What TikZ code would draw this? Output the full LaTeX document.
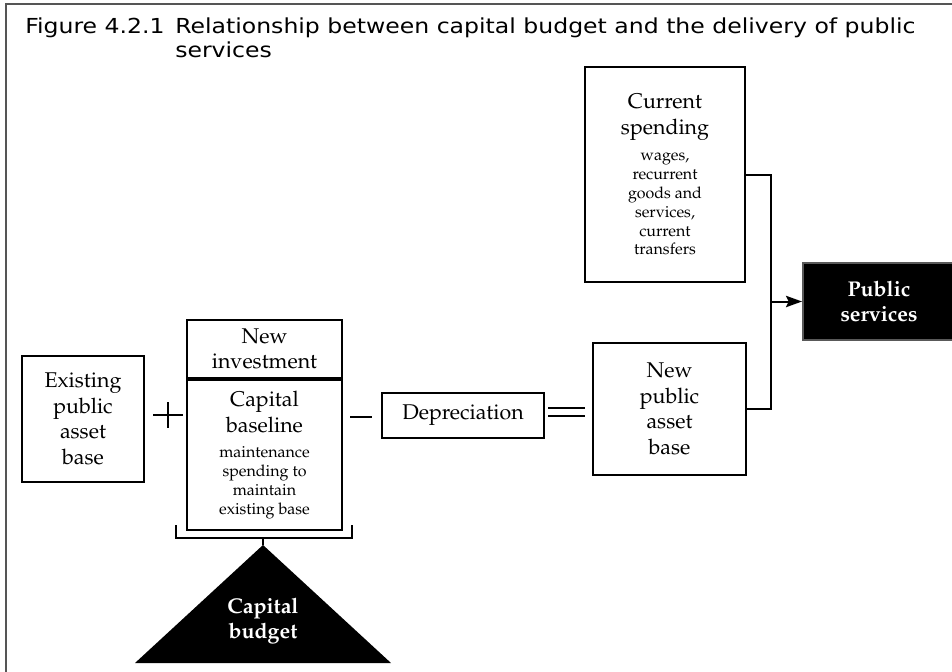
\documentclass[tikz,border=0pt]{standalone}
\usepackage[T1]{fontenc}
\usepackage{fontspec}
\usepackage{tikz}
\usetikzlibrary{arrows.meta, positioning}
\newfontfamily\capfont[FakeStretch=1.14]{DejaVu Sans}
\newcommand{\boxfont}{\fontencoding{T1}\fontfamily{ppl}\fontsize{16}{19.2}\selectfont}
\newcommand{\notefont}{\fontsize{12}{14.2}\selectfont}
\definecolor{framegray}{HTML}{555555}

\begin{document}
\begin{tikzpicture}[x=0.75pt, y=0.75pt, font=\boxfont,
  box/.style={draw, line width=1.5pt, inner sep=2pt, align=flush center},
  dark/.style={box, draw=gray!70!black, fill=black, text=white, font=\boxfont\bfseries},
  line/.style={line width=1.5pt},
  op/.style={line width=1.6pt},
  arr/.style={-{Stealth[length=12pt, width=8.5pt, inset=2pt]}, line width=1.5pt}
]
\useasboundingbox (0,0) rectangle (952,-671);
\draw[framegray, line width=1.1pt] (6,-680) -- (6,-4) -- (960,-4);

% caption (base of a two-line node is its last line)
\node[anchor=base west, inner sep=0pt, font=\capfont\fontsize{15.5}{18}\selectfont] (fignum) at (25,-33) {Figure 4.2.1};
\node[anchor=base west, inner sep=0pt, align=left, font=\capfont\fontsize{15.5}{18}\selectfont] (caption) at (175,-57)
  {Relationship between capital budget and the delivery of public\\services};

% capital side
\node[box, minimum width=91.5pt, minimum height=94.5pt, text width=84pt] (exist) at (83,-419)
  {Existing\\public\\asset\\base};
\node[box, minimum width=116.25pt, minimum height=112.5pt, text width=108pt] (capbase) at (264.5,-455)
  {Capital\\baseline\par\vspace{5pt}{\notefont maintenance\\spending to\\maintain\\existing base\par}};
\node[box, minimum width=116.25pt, minimum height=43.5pt, text width=108pt] (newinv) [above=0pt of capbase]
  {New\\investment};
\node[box, minimum width=121.5pt, minimum height=33.75pt, text width=112pt] (depr) at (463,-415.5)
  {Depreciation};
\node[box, minimum width=114.75pt, minimum height=99pt, text width=106pt] (newbase) at (669.5,-409)
  {New\\public\\asset\\base};

% current side
\node[box, minimum width=120pt, minimum height=161.25pt, text width=112pt] (curr) at (665,-174.5)
  {Current\\spending\par\vspace{5.5pt}{\notefont wages,\\recurrent\\goods and\\services,\\current\\transfers\par}};
\node[dark, minimum width=114pt, minimum height=57.75pt] (pubserv) at (879,-301.5) {Public\\services};

% + , - and =
\draw[op] (153,-415) -- (183,-415) (168,-402) -- (168,-428);
\draw[op] (350,-417) -- (372,-417);
\foreach \y in {-408,-416} \draw[line width=2pt] (548,\y) -- (585,\y);

% both kinds of spending feed the services
\coordinate (join) at (771,-301.5);
\draw[line] (curr.east) -| (join) |- (newbase.east);
\draw[arr] (join) -- (pubserv.west);

% bracket under the capital boxes, budget triangle
\coordinate (apex) at (263,-545);
\draw[line] (176,-525) -- (176,-538) -- (352,-538) -- (352,-525);
\draw[line] (263,-538) -- (apex);
\fill (apex) -- (135,-663) -- (391,-663) -- cycle;
\node[text=white, font=\boxfont\bfseries, align=center] (capbud) at (263,-621) {Capital\\budget};
\end{tikzpicture}
\end{document}
